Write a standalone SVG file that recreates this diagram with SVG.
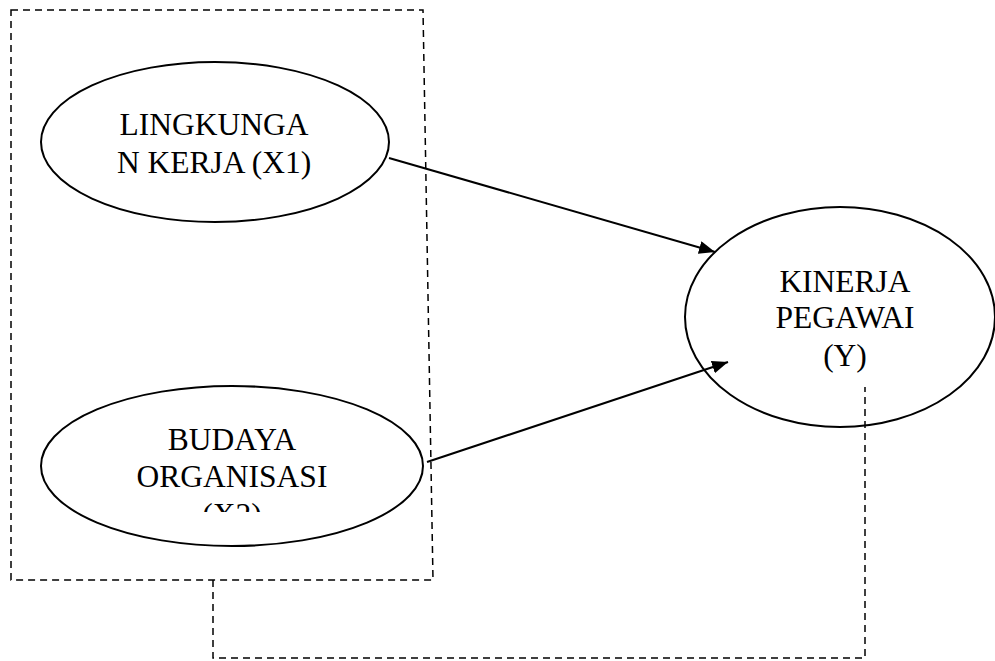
<svg xmlns="http://www.w3.org/2000/svg" width="995" height="661" viewBox="0 0 995 661">
<style>
.node{fill:#fff;stroke:#000;stroke-width:2}
.lbl{font-family:"Liberation Serif","Times New Roman",serif;font-size:31.5px;fill:#000;text-anchor:middle}
.dash{fill:none;stroke:#000;stroke-width:1.5;stroke-dasharray:7,5}
.arrow{fill:none;stroke:#000;stroke-width:2;marker-end:url(#ah)}
</style>
<defs>
<marker id="ah" markerUnits="userSpaceOnUse" markerWidth="18" markerHeight="14" refX="16" refY="6.5" orient="auto">
<path d="M0,0 L16,6.5 L0,13 z" fill="#000"/>
</marker>
<clipPath id="clipX2"><rect x="0" y="0" width="995" height="512"/></clipPath>
</defs>
<rect width="995" height="661" fill="#fff"/>
<g id="group-box">
<polygon class="dash" points="11,10 423,10 433,580 11,580"/>
</g>
<g id="x1">
<ellipse class="node" cx="215" cy="142" rx="174" ry="80"/>
<text class="lbl" x="214" y="135">LINGKUNGA</text>
<text class="lbl" x="214" y="173">N KERJA (X1)</text>
</g>
<g id="x2">
<ellipse class="node" cx="232" cy="466" rx="191" ry="80"/>
<text class="lbl" x="232" y="450">BUDAYA</text>
<text class="lbl" x="232" y="487">ORGANISASI</text>
<text class="lbl" x="232" y="525" clip-path="url(#clipX2)">(X2)</text>
</g>
<g id="y">
<ellipse class="node" cx="840" cy="317" rx="155" ry="110"/>
<text class="lbl" x="845" y="292">KINERJA</text>
<text class="lbl" x="845" y="328">PEGAWAI</text>
<text class="lbl" x="845" y="366">(Y)</text>
</g>
<g id="connectors">
<line class="arrow" x1="389" y1="158" x2="715" y2="252"/>
<line class="arrow" x1="427" y1="462" x2="728" y2="362"/>
<path class="dash" d="M213,580 V658 H865 V387"/>
</g>
</svg>
